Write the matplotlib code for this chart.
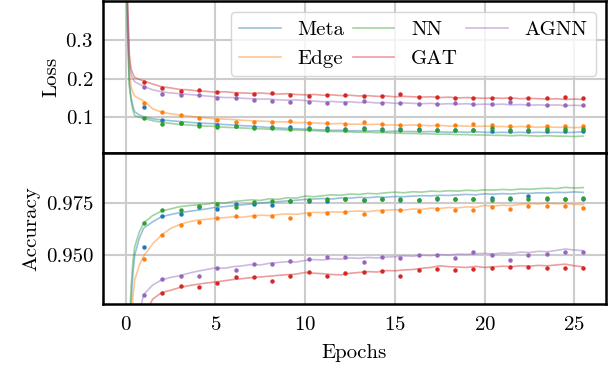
import numpy as np
import matplotlib
matplotlib.use("Agg")
import matplotlib.pyplot as plt

plt.rcParams["font.family"] = "cmr10"
plt.rcParams["mathtext.fontset"] = "cm"
plt.rcParams["axes.formatter.use_mathtext"] = True
plt.rcParams["font.size"] = 15

models = ["Meta", "Edge", "NN", "GAT", "AGNN"]
colors = {"Meta": "tab:blue", "Edge": "tab:orange", "NN": "tab:green",
          "GAT": "tab:red", "AGNN": "tab:purple"}

# training curves, sampled on a coarse epoch grid
early_epochs = [0.0, 0.1, 0.2, 0.3, 0.4, 0.5, 0.75]
train_epochs = np.concatenate([early_epochs, np.arange(1.0, 25.51, 0.5)])

train_loss = {
    "Meta": [0.64, 0.33, 0.19, 0.150, 0.128, 0.114, 0.106,
             0.101, 0.096, 0.093, 0.091, 0.089, 0.087, 0.085, 0.084, 0.083, 0.081,
             0.080, 0.078, 0.077, 0.075, 0.073, 0.072, 0.071, 0.070, 0.069, 0.068,
             0.067, 0.066, 0.066, 0.065, 0.065, 0.064, 0.065, 0.063, 0.064, 0.063,
             0.063, 0.062, 0.063, 0.062, 0.061, 0.062, 0.061, 0.062, 0.061, 0.060,
             0.061, 0.060, 0.061, 0.060, 0.061, 0.060, 0.061, 0.060, 0.061, 0.062],
    "Edge": [0.66, 0.36, 0.22, 0.178, 0.165, 0.155, 0.148,
             0.142, 0.122, 0.113, 0.109, 0.106, 0.103, 0.100, 0.098, 0.096, 0.095,
             0.094, 0.092, 0.091, 0.090, 0.089, 0.088, 0.088, 0.086, 0.086, 0.085,
             0.084, 0.083, 0.084, 0.082, 0.082, 0.081, 0.082, 0.080, 0.080, 0.079,
             0.080, 0.079, 0.078, 0.079, 0.077, 0.078, 0.077, 0.076, 0.077, 0.076,
             0.076, 0.075, 0.076, 0.075, 0.074, 0.075, 0.074, 0.074, 0.073, 0.074],
    "NN": [0.63, 0.32, 0.18, 0.142, 0.118, 0.104, 0.100,
           0.097, 0.091, 0.087, 0.084, 0.081, 0.080, 0.078, 0.077, 0.076, 0.074,
           0.073, 0.072, 0.071, 0.070, 0.069, 0.068, 0.067, 0.067, 0.066, 0.065,
           0.064, 0.063, 0.063, 0.062, 0.061, 0.061, 0.060, 0.060, 0.059, 0.058,
           0.058, 0.057, 0.057, 0.056, 0.056, 0.055, 0.055, 0.054, 0.054, 0.053,
           0.053, 0.052, 0.053, 0.052, 0.051, 0.052, 0.051, 0.051, 0.050, 0.051],
    "GAT": [0.70, 0.40, 0.262, 0.224, 0.212, 0.203, 0.198,
            0.194, 0.186, 0.179, 0.176, 0.172, 0.171, 0.168, 0.167, 0.165, 0.166,
            0.164, 0.163, 0.162, 0.163, 0.161, 0.160, 0.161, 0.159, 0.158, 0.159,
            0.157, 0.158, 0.156, 0.157, 0.155, 0.156, 0.154, 0.155, 0.153, 0.154,
            0.153, 0.152, 0.153, 0.151, 0.152, 0.150, 0.151, 0.150, 0.149, 0.150,
            0.149, 0.150, 0.148, 0.149, 0.148, 0.147, 0.148, 0.146, 0.147, 0.146],
    "AGNN": [0.68, 0.38, 0.245, 0.210, 0.200, 0.192, 0.186,
             0.180, 0.171, 0.166, 0.163, 0.161, 0.159, 0.157, 0.155, 0.153, 0.151,
             0.151, 0.149, 0.148, 0.147, 0.147, 0.145, 0.144, 0.145, 0.143, 0.142,
             0.140, 0.141, 0.139, 0.140, 0.138, 0.139, 0.137, 0.138, 0.136, 0.137,
             0.136, 0.135, 0.136, 0.134, 0.135, 0.134, 0.135, 0.133, 0.134, 0.133,
             0.134, 0.132, 0.133, 0.131, 0.132, 0.131, 0.132, 0.130, 0.131, 0.130],
}

train_acc = {
    "Meta": [0.84, 0.87, 0.905, 0.928, 0.941, 0.950, 0.958,
             0.9630, 0.9660, 0.9685, 0.9695, 0.9704, 0.9710, 0.9716, 0.9722, 0.9730, 0.9733,
             0.9738, 0.9742, 0.9746, 0.9750, 0.9754, 0.9757, 0.9761, 0.9764, 0.9768, 0.9770,
             0.9772, 0.9770, 0.9775, 0.9774, 0.9778, 0.9776, 0.9780, 0.9778, 0.9782, 0.9781,
             0.9784, 0.9786, 0.9785, 0.9788, 0.9787, 0.9790, 0.9792, 0.9790, 0.9795, 0.9793,
             0.9796, 0.9794, 0.9798, 0.9797, 0.9800, 0.9799, 0.9802, 0.9801, 0.9804, 0.9802],
    "Edge": [0.80, 0.84, 0.89, 0.918, 0.930, 0.938, 0.945,
             0.9495, 0.9554, 0.9597, 0.9628, 0.9647, 0.9660, 0.9668, 0.9672, 0.9677, 0.9680,
             0.9684, 0.9682, 0.9688, 0.9692, 0.9690, 0.9695, 0.9698, 0.9696, 0.9702, 0.9706,
             0.9704, 0.9708, 0.9706, 0.9710, 0.9712, 0.9709, 0.9714, 0.9716, 0.9718, 0.9716,
             0.9722, 0.9720, 0.9726, 0.9724, 0.9729, 0.9727, 0.9732, 0.9730, 0.9739, 0.9736,
             0.9740, 0.9738, 0.9744, 0.9748, 0.9746, 0.9750, 0.9747, 0.9748, 0.9744, 0.9743],
    "NN": [0.86, 0.89, 0.915, 0.935, 0.947, 0.954, 0.961,
           0.9655, 0.9690, 0.9712, 0.9722, 0.9733, 0.9738, 0.9742, 0.9745, 0.9752, 0.9750,
           0.9758, 0.9762, 0.9766, 0.9763, 0.9771, 0.9768, 0.9776, 0.9774, 0.9784, 0.9781,
           0.9786, 0.9790, 0.9788, 0.9794, 0.9792, 0.9797, 0.9795, 0.9800, 0.9803, 0.9800,
           0.9805, 0.9803, 0.9808, 0.9806, 0.9810, 0.9808, 0.9812, 0.9810, 0.9814, 0.9813,
           0.9816, 0.9814, 0.9818, 0.9817, 0.9820, 0.9822, 0.9820, 0.9826, 0.9823, 0.9825],
    "GAT": [0.76, 0.80, 0.84, 0.865, 0.880, 0.892, 0.908,
            0.9200, 0.9287, 0.9319, 0.9330, 0.9343, 0.9352, 0.9359, 0.9365, 0.9370, 0.9376,
            0.9382, 0.9386, 0.9391, 0.9394, 0.9398, 0.9402, 0.9405, 0.9408, 0.9416, 0.9412,
            0.9410, 0.9406, 0.9404, 0.9412, 0.9416, 0.9420, 0.9418, 0.9425, 0.9424, 0.9428,
            0.9430, 0.9436, 0.9440, 0.9448, 0.9444, 0.9442, 0.9440, 0.9445, 0.9440, 0.9443,
            0.9446, 0.9444, 0.9448, 0.9446, 0.9450, 0.9448, 0.9452, 0.9456, 0.9448, 0.9443],
    "AGNN": [0.78, 0.82, 0.86, 0.885, 0.900, 0.910, 0.922,
             0.9310, 0.9355, 0.9380, 0.9392, 0.9400, 0.9412, 0.9422, 0.9430, 0.9438, 0.9436,
             0.9444, 0.9448, 0.9454, 0.9452, 0.9460, 0.9464, 0.9468, 0.9466, 0.9474, 0.9478,
             0.9476, 0.9482, 0.9480, 0.9486, 0.9484, 0.9488, 0.9486, 0.9490, 0.9492, 0.9496,
             0.9494, 0.9499, 0.9497, 0.9502, 0.9500, 0.9504, 0.9503, 0.9506, 0.9508, 0.9505,
             0.9510, 0.9508, 0.9514, 0.9512, 0.9518, 0.9516, 0.9522, 0.9529, 0.9524, 0.9521],
}

# validation after every epoch
val_epochs = [1.02, 2.04, 3.06, 4.08, 5.10, 6.12, 7.14, 8.16, 9.18, 10.20,
              11.22, 12.24, 13.26, 14.28, 15.30, 16.32, 17.34, 18.36, 19.38, 20.40,
              21.42, 22.44, 23.46, 24.48, 25.50]

val_loss = {
    "Meta": [0.1253, 0.0940, 0.0853, 0.0836, 0.0809, 0.0783, 0.0757, 0.0757, 0.0740, 0.0731,
             0.0713, 0.0696, 0.0713, 0.0687, 0.0687, 0.0696, 0.0679, 0.0679, 0.0660, 0.0653,
             0.0653, 0.0635, 0.0635, 0.0635, 0.0653],
    "Edge": [0.1375, 0.1123, 0.1062, 0.0983, 0.0920, 0.0879, 0.0870, 0.0879, 0.0905, 0.0853,
             0.0853, 0.0827, 0.0870, 0.0827, 0.0801, 0.0801, 0.0801, 0.0801, 0.0827, 0.0801,
             0.0775, 0.0775, 0.0775, 0.0775, 0.0783],
    "NN": [0.0992, 0.0818, 0.0844, 0.0766, 0.0757, 0.0766, 0.0713, 0.0731, 0.0705, 0.0696,
           0.0679, 0.0679, 0.0696, 0.0679, 0.0661, 0.0679, 0.0661, 0.0661, 0.0670, 0.0710,
           0.0679, 0.0679, 0.0687, 0.0687, 0.0687],
    "GAT": [0.1915, 0.1758, 0.1680, 0.1697, 0.1654, 0.1610, 0.1593, 0.1636, 0.1584, 0.1540,
            0.1584, 0.1567, 0.1540, 0.1540, 0.1593, 0.1523, 0.1523, 0.1506, 0.1506, 0.1506,
            0.1497, 0.1497, 0.1506, 0.1514, 0.1506],
    "AGNN": [0.1775, 0.1610, 0.1584, 0.1584, 0.1497, 0.1488, 0.1436, 0.1427, 0.1401, 0.1384,
             0.1366, 0.1366, 0.1419, 0.1366, 0.1375, 0.1340, 0.1340, 0.1366, 0.1332, 0.1349,
             0.1392, 0.1340, 0.1323, 0.1323, 0.1314],
}

val_acc = {
    "Meta": [0.9540, 0.9690, 0.9699, 0.9731, 0.9723, 0.9747, 0.9747, 0.9743, 0.9758, 0.9758,
             0.9758, 0.9771, 0.9764, 0.9768, 0.9766, 0.9764, 0.9772, 0.9769, 0.9768, 0.9776,
             0.9772, 0.9786, 0.9772, 0.9768, 0.9771],
    "Edge": [0.9482, 0.9595, 0.9647, 0.9661, 0.9677, 0.9687, 0.9690, 0.9686, 0.9677, 0.9700,
             0.9703, 0.9705, 0.9698, 0.9711, 0.9718, 0.9711, 0.9721, 0.9716, 0.9716, 0.9731,
             0.9724, 0.9734, 0.9734, 0.9734, 0.9726],
    "NN": [0.9653, 0.9718, 0.9718, 0.9737, 0.9745, 0.9732, 0.9755, 0.9758, 0.9760, 0.9766,
           0.9770, 0.9771, 0.9766, 0.9768, 0.9770, 0.9766, 0.9774, 0.9771, 0.9770, 0.9763,
           0.9776, 0.9770, 0.9774, 0.9770, 0.9774],
    "GAT": [0.9240, 0.9319, 0.9351, 0.9348, 0.9367, 0.9392, 0.9392, 0.9376, 0.9397, 0.9416,
            0.9400, 0.9411, 0.9417, 0.9421, 0.9398, 0.9427, 0.9432, 0.9430, 0.9432, 0.9435,
            0.9440, 0.9442, 0.9437, 0.9435, 0.9437],
    "AGNN": [0.9309, 0.9382, 0.9400, 0.9397, 0.9437, 0.9430, 0.9455, 0.9458, 0.9471, 0.9480,
             0.9488, 0.9488, 0.9467, 0.9488, 0.9484, 0.9500, 0.9500, 0.9487, 0.9513, 0.9500,
             0.9474, 0.9500, 0.9506, 0.9514, 0.9513],
}

fig, (ax_loss, ax_acc) = plt.subplots(2, 1, sharex=True, figsize=(6.16, 3.68), dpi=100)
fig.subplots_adjust(left=0.167, right=0.984, top=0.996, bottom=0.174, hspace=0)

for ax, train, val in [(ax_loss, train_loss, val_loss), (ax_acc, train_acc, val_acc)]:
    for m in models:
        ax.plot(train_epochs, train[m], color=colors[m], lw=1.2, alpha=0.45, label=m)
        ax.plot(val_epochs, val[m], "o", color=colors[m], ms=3.2, mew=0, zorder=3)
    ax.grid(True, color="0.8", lw=1.5)
    ax.set_axisbelow(True)
    ax.tick_params(length=0, pad=7)
    for s in ax.spines.values():
        s.set_linewidth(1.8)
        s.set_color("black")

ax_loss.set_ylim(0.008, 0.40)
ax_loss.set_yticks([0.1, 0.2, 0.3])
ax_loss.set_ylabel("Loss")

ax_acc.set_ylim(0.9264, 0.9993)
ax_acc.set_yticks([0.950, 0.975])
ax_acc.set_yticklabels(["0.950", "0.975"])
ax_acc.set_ylabel("Accuracy")
ax_acc.set_xticks([0, 5, 10, 15, 20, 25])
ax_acc.tick_params(axis="x", pad=9)
ax_acc.set_xlabel("Epochs", labelpad=7)

ax_loss.legend(loc="upper right", ncol=3, columnspacing=0.4, handletextpad=0.8,
               borderaxespad=0.5, fontsize=15)

fig.savefig("out.png", dpi=100)
